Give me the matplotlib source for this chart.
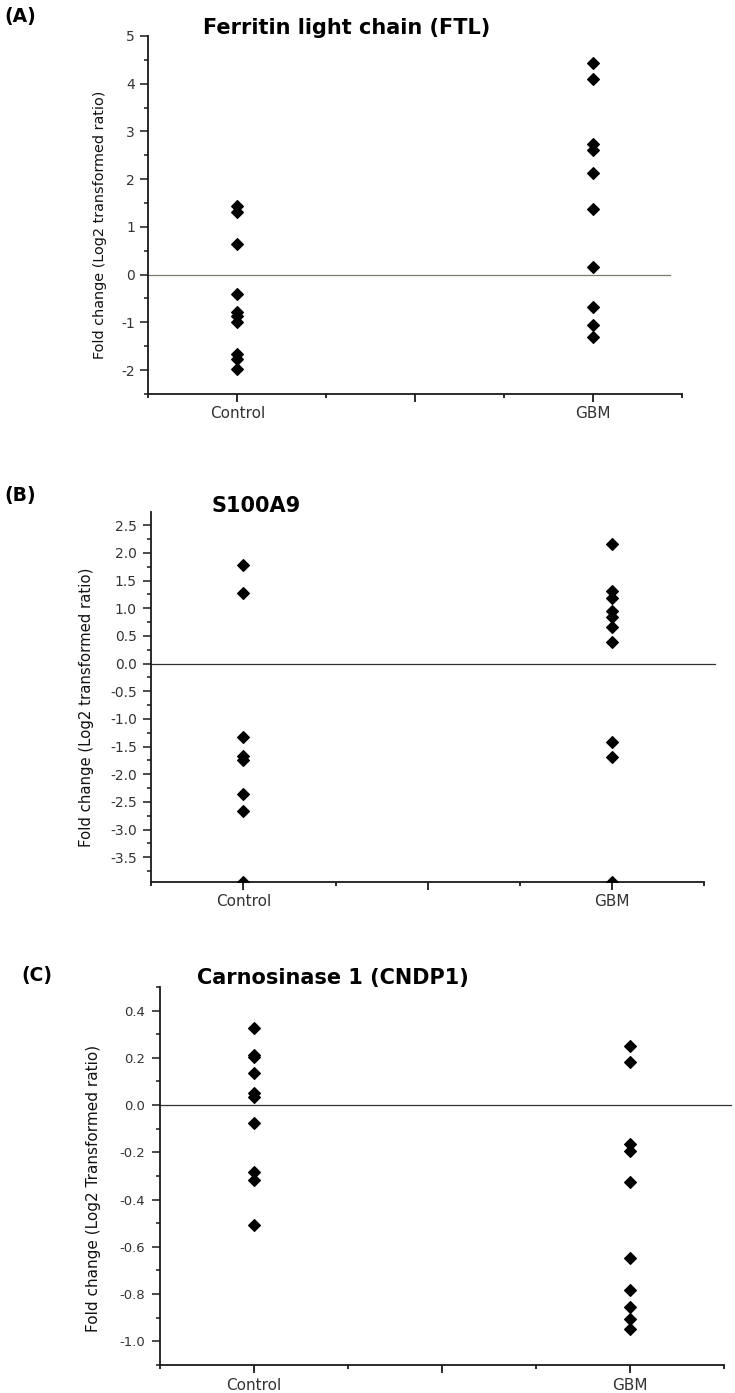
import matplotlib

matplotlib.use("Agg")
import matplotlib.pyplot as plt
from matplotlib.ticker import FixedLocator, MultipleLocator

plt.rcParams["font.family"] = "DejaVu Sans"
plt.rcParams["axes.unicode_minus"] = False

# ---- data (log2 fold change) ----
groups = ["Control", "GBM"]

ftl_control = [1.43, 1.32, 0.65, -0.41, -0.79, -0.86, -0.99, -1.67, -1.76, -1.97]
ftl_gbm = [4.43, 4.09, 2.73, 2.62, 2.12, 1.37, 0.16, -0.68, -1.05, -1.30]

s100a9_control = [1.79, 1.28, -1.33, -1.67, -1.75, -2.36, -2.67, -3.94]
s100a9_gbm = [2.16, 1.31, 1.19, 0.95, 0.85, 0.66, 0.39, -1.42, -1.68, -3.94]

cndp1_control = [0.328, 0.211, 0.202, 0.137, 0.050, 0.036, -0.074, -0.282, -0.317, -0.508]
cndp1_gbm = [0.252, 0.183, -0.166, -0.193, -0.327, -0.649, -0.783, -0.856, -0.904, -0.949]

fig = plt.figure(figsize=(7.35, 13.93), dpi=100)


def draw_panel(rect, control, gbm, ylim, major, minor, ylabel, label_xy, label_size,
               ytick_size, ytick_pad, zero_color, zero_xmax):
    """Draw one dot plot panel (Control vs GBM) in Origin style."""
    ax = fig.add_axes(rect)

    # zero reference line
    ax.axhline(0, xmin=0, xmax=zero_xmax, color=zero_color, lw=0.9, clip_on=False, zorder=1)

    for pos, vals in zip([1, 2], [control, gbm]):
        ax.plot([pos] * len(vals), vals, linestyle="none", marker="D", ms=5.8,
                mew=0.8, color="black", zorder=3)

    ax.set_xlim(0.75, 2.25)
    ax.set_ylim(*ylim)

    ax.set_xticks([1, 1.5, 2])
    ax.set_xticklabels([groups[0], "", groups[1]])
    ax.xaxis.set_minor_locator(FixedLocator([0.75, 1.25, 1.75, 2.25]))
    ax.yaxis.set_major_locator(MultipleLocator(major))
    ax.yaxis.set_minor_locator(MultipleLocator(minor))

    for side in ["top", "right"]:
        ax.spines[side].set_visible(False)
    for side in ["left", "bottom"]:
        ax.spines[side].set_linewidth(1.3)
        ax.spines[side].set_color("#1a1a1a")

    ax.tick_params(axis="x", which="major", length=5.5, width=1.3, pad=3.5,
                   labelsize=11, colors="#1a1a1a", labelcolor="#333333")
    ax.tick_params(axis="x", which="minor", length=3, width=1.3, colors="#1a1a1a")
    ax.tick_params(axis="y", which="major", length=5.5, width=1.1, pad=ytick_pad,
                   labelsize=ytick_size, colors="#1a1a1a", labelcolor="#333333")
    ax.tick_params(axis="y", which="minor", length=3, width=1.1, colors="#1a1a1a")

    ax.set_ylabel(ylabel, fontsize=label_size, va="center", color="#111111")
    ax.yaxis.set_label_coords(*label_xy)
    return ax


# (A) Ferritin light chain
draw_panel([0.2020, 0.7172, 0.7255, 0.2570], ftl_control, ftl_gbm, (-2.5, 5), 1, 0.5,
           "Fold change (Log2 transformed ratio)", (-0.091, 0.472), 10.4, 10, 4.3,
           "#7c7c6e", 0.978)
fig.text(0.472, 0.9756, "Ferritin light chain (FTL)", ha="center", va="baseline",
         fontsize=15, fontweight="bold")
fig.text(0.0064, 0.9842, "(A)", ha="left", va="baseline", fontsize=13.5, fontweight="bold")

# (B) S100A9
draw_panel([0.2060, 0.3671, 0.7516, 0.2654], s100a9_control, s100a9_gbm, (-3.94, 2.74), 0.5, 0.25,
           "Fold change (Log2 transformed ratio)", (-0.117, 0.471), 10.7, 10, 5,
           "#333333", 1.0195)
fig.text(0.288, 0.6327, "S100A9", ha="left", va="baseline", fontsize=15, fontweight="bold")
fig.text(0.0064, 0.6406, "(B)", ha="left", va="baseline", fontsize=13.5, fontweight="bold")

# (C) Carnosinase 1
draw_panel([0.2176, 0.0201, 0.7675, 0.2714], cndp1_control, cndp1_gbm, (-1.1, 0.5), 0.2, 0.1,
           "Fold change (Log2 Transformed ratio)", (-0.117, 0.4675), 11, 9.5, 5,
           "#333333", 1.0124)
fig.text(0.2687, 0.2936, "Carnosinase 1 (CNDP1)", ha="left", va="baseline",
         fontsize=15, fontweight="bold")
fig.text(0.0286, 0.296, "(C)", ha="left", va="baseline", fontsize=13.5, fontweight="bold")

fig.savefig("out.png", dpi=100)
